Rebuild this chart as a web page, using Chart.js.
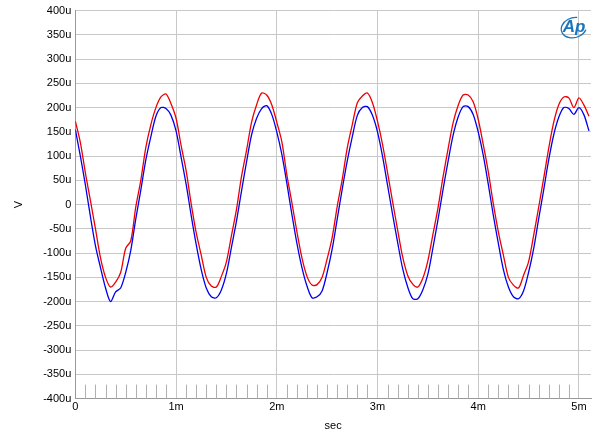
<!DOCTYPE html>
<html><head><meta charset="utf-8">
<script src="https://cdn.jsdelivr.net/npm/chart.js@4/dist/chart.umd.min.js"></script>
<style>html,body{margin:0;padding:0;background:#fff}#w{width:600px;height:443px;position:relative}</style>
</head><body><div id="w"><canvas id="c"></canvas></div>
<script>
const timeMs = [0,0.05,0.1,0.15,0.2,0.25,0.3,0.35,0.4,0.45,0.5,0.55,0.6,0.65,0.7,0.75,0.8,0.85,0.9,0.95,
1,1.05,1.1,1.15,1.2,1.25,1.3,1.35,1.4,1.45,1.5,1.55,1.6,1.65,1.7,1.75,1.8,1.85,1.9,1.95,
2,2.05,2.1,2.15,2.2,2.25,2.3,2.35,2.4,2.45,2.5,2.55,2.6,2.65,2.7,2.75,2.8,2.85,2.9,2.95,
3,3.05,3.1,3.15,3.2,3.25,3.3,3.35,3.4,3.45,3.5,3.55,3.6,3.65,3.7,3.75,3.8,3.85,3.9,3.95,
4,4.05,4.1,4.15,4.2,4.25,4.3,4.35,4.4,4.45,4.5,4.55,4.6,4.65,4.7,4.75,4.8,4.85,4.9,4.95,
5,5.05,5.1];
const redUV = [172,128,65,8,-50,-110,-150,-170,-160,-140,-90,-75,-5,50,118,165,200,222,228,208,
178,122,70,2,-58,-104,-150,-168,-170,-148,-118,-64,-10,58,112,170,206,230,226,206,
170,130,62,4,-56,-110,-148,-166,-165,-150,-112,-68,-4,52,117,165,210,224,230,210,
172,124,66,6,-52,-108,-146,-164,-170,-152,-116,-62,-8,56,114,168,204,226,226,212,
176,124,68,2,-56,-104,-150,-166,-172,-146,-118,-64,-6,54,116,170,206,222,220,200,
220,205,182];
const blueUV = [155,100,40,-25,-85,-130,-172,-200,-180,-172,-140,-95,-30,30,92,140,182,200,198,184,
152,98,42,-22,-82,-134,-172,-190,-192,-176,-142,-88,-34,28,88,144,178,198,204,186,
150,104,44,-20,-80,-130,-168,-192,-190,-178,-140,-92,-30,32,90,140,184,200,202,184,
150,100,40,-20,-78,-132,-170,-194,-194,-176,-144,-90,-32,30,88,142,180,202,202,186,
150,102,42,-22,-80,-134,-170,-190,-194,-178,-140,-92,-30,30,92,144,180,200,198,186,
200,185,152];
const yTicks = [-400,-350,-300,-250,-200,-150,-100,-50,0,50,100,150,200,250,300,350,400];

const pts = a => a.map((v,i)=>({x:timeMs[i], y:v}));

const minorTicks = {
  id:'minor',
  afterDatasetsDraw(ch){
    const {ctx, chartArea:a, scales:{x}} = ch;
    ctx.save(); ctx.strokeStyle='#b0b0b0'; ctx.lineWidth=1;
    for(let i=1;i<51;i++){ if(i%10===0) continue;
      const px=Math.round(x.getPixelForValue(i/10))+0.5;
      ctx.beginPath(); ctx.moveTo(px,a.bottom); ctx.lineTo(px,a.bottom-14); ctx.stroke(); }
    ctx.fillStyle='#1a75bb'; ctx.font='italic bold 17px "Liberation Sans"';
    ctx.textAlign='center'; ctx.textBaseline='middle';
    ctx.fillText('Ap', a.right-17, a.top+17);
    ctx.strokeStyle='#1a75bb'; ctx.lineWidth=1.3;
    ctx.beginPath(); ctx.ellipse(a.right-17,a.top+17,13,10,-0.3,0.6,5.2); ctx.stroke();
    ctx.restore();
  }
};

new Chart(document.getElementById('c'), {
  type:'line',
  data:{datasets:[
    {data:pts(blueUV), borderColor:'#0000ee', borderWidth:1.3, pointRadius:0, tension:0.3},
    {data:pts(redUV), borderColor:'#ee0000', borderWidth:1.3, pointRadius:0, tension:0.3}
  ]},
  options:{
    responsive:true, maintainAspectRatio:false, animation:false,
    layout:{padding:{top:7,right:9,bottom:6,left:8}},
    plugins:{legend:{display:false}, tooltip:{enabled:false}},
    scales:{
      x:{type:'linear', min:0, max:5.12,
        afterBuildTicks: s=>{ s.ticks=[0,1,2,3,4,5].map(v=>({value:v})); },
        ticks:{callback:v=>v===0?'0':v+'m', color:'#000', font:{family:'Liberation Sans',size:11}, maxRotation:0, padding:2},
        grid:{color:'#c8c8c8', drawTicks:false},
        border:{color:'#999'},
        title:{display:true, text:'sec', color:'#000', font:{family:'Liberation Sans',size:11}, padding:{top:4}}
      },
      y:{min:-400, max:400,
        afterBuildTicks: s=>{ s.ticks=yTicks.map(v=>({value:v})); },
        ticks:{callback:v=>v===0?'0':v+'u', color:'#000', font:{family:'Liberation Sans',size:11}, padding:4},
        grid:{color:'#c8c8c8', drawTicks:false},
        border:{color:'#999'},
        title:{display:true, text:'V', color:'#000', font:{family:'Liberation Sans',size:11}, padding:{bottom:14}}
      }
    }
  },
  plugins:[minorTicks]
});
</script></body></html>
